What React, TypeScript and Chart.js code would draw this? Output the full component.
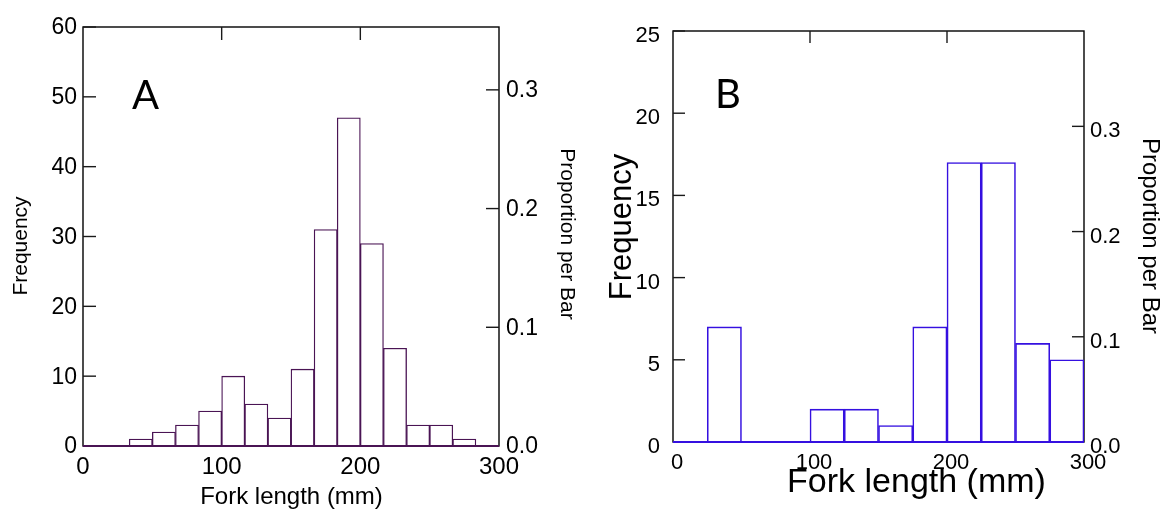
import React, { useEffect, useRef } from "react";
import { Chart, registerables } from "chart.js";

Chart.register(...registerables);

// ---------- data ----------
const xRange = [0, 300];
const xTickValues = [0, 100, 200, 300];
const xTickLabels = ["0", "100", "200", "300"];

// Panel A: 18 bins of equal width over 0–300 mm
const countsA = [0, 0, 1, 2, 3, 5, 10, 6, 4, 11, 31, 47, 29, 14, 3, 3, 1, 0];
const freqTicksA = [0, 10, 20, 30, 40, 50, 60];

// Panel B: 12 bins of 25 mm over 0–300 mm
const countsB = [0, 7, 0, 0, 2, 2, 1, 7, 17, 17, 6, 5];
const freqTicksB = [0, 5, 10, 15, 20, 25];

const propTicks = [0, 0.1, 0.2, 0.3];
const propTickLabels = ["0.0", "0.1", "0.2", "0.3"];

const FONT = "'Liberation Sans', Arial, sans-serif";

type TitleSpec = { text: string; x: number; y: number; size: number; rot: number; family?: string; align?: CanvasTextAlign; baseline?: CanvasTextBaseline };

type PanelSpec = {
  counts: number[];
  freqTicks: number[];
  color: string;
  leftW: number;
  rightW: number;
  topPad: number;
  bottomH: number;
  tickLen: number;
  yFont: number;
  yPad: number;
  yOffset: number;
  xFont: number;
  xPad: number;
  xOffset: number;
  rFont: number;
  rPad: number;
  barW: number;
  baseW: number;
  titles: TitleSpec[];
};

const panelA: PanelSpec = {
  counts: countsA,
  freqTicks: freqTicksA,
  color: "#4a1454",
  leftW: 83,
  rightW: 81,
  topPad: 27,
  bottomH: 63,
  tickLen: 13,
  yFont: 23,
  yPad: 6,
  yOffset: 1,
  xFont: 24,
  xPad: 7,
  xOffset: 0,
  rFont: 23,
  rPad: 7,
  barW: 1.3,
  baseW: 1.8,
  titles: [
    { text: "Frequency", x: 21, y: 246, size: 21, rot: -90 },
    { text: "Proportion per Bar", x: 567, y: 234, size: 21, rot: 90 },
    { text: "Fork length (mm)", x: 291.5, y: 497, size: 24, rot: 0 },
    { text: "A", x: 132, y: 109, size: 40, rot: 0, family: "Lato, 'Open Sans', sans-serif", align: "left", baseline: "alphabetic" },
  ],
};

const panelB: PanelSpec = {
  counts: countsB,
  freqTicks: freqTicksB,
  color: "#3510e0",
  leftW: 93,
  rightW: 84,
  topPad: 31,
  bottomH: 67,
  tickLen: 12,
  yFont: 22,
  yPad: 13,
  yOffset: 5,
  xFont: 22,
  xPad: 8,
  xOffset: 4,
  rFont: 22,
  rPad: 6,
  barW: 1.6,
  baseW: 2.2,
  titles: [
    { text: "Frequency", x: 42, y: 227, size: 31, rot: -90 },
    { text: "Proportion per Bar", x: 570, y: 236, size: 24, rot: 90 },
    { text: "Fork length (mm)", x: 336.5, y: 482.5, size: 34, rot: 0 },
    { text: "B", x: 135, y: 108, size: 40, rot: 0, family: "Lato, 'Open Sans', sans-serif", align: "left", baseline: "alphabetic" },
  ],
};

function buildChart(canvas: HTMLCanvasElement, spec: PanelSpec) {
  const n = spec.counts.length;
  const binW = (xRange[1] - xRange[0]) / n;
  const points = spec.counts.map((c, i) => ({ x: xRange[0] + (i + 0.5) * binW, y: c }));
  const total = spec.counts.reduce((a, b) => a + b, 0);
  const yMax = spec.freqTicks[spec.freqTicks.length - 1];
  const propMax = yMax / total;

  const decor = {
    id: "decor",
    beforeDatasetsDraw(chart: any) {
      const { ctx, chartArea, scales } = chart;
      const { left, right, top, bottom } = chartArea;
      ctx.save();
      ctx.strokeStyle = "#000";
      ctx.lineWidth = 1.4;
      ctx.strokeRect(left, top, right - left, bottom - top);
      ctx.strokeStyle = "#1a1a1a";
      const L = spec.tickLen;
      const line = (x1: number, y1: number, x2: number, y2: number) => {
        ctx.beginPath();
        ctx.moveTo(x1, y1);
        ctx.lineTo(x2, y2);
        ctx.stroke();
      };
      scales.y.ticks.forEach((t: any) => {
        const p = scales.y.getPixelForValue(t.value);
        line(left, p, left + L, p);
      });
      scales.y2.ticks.forEach((t: any) => {
        const p = scales.y2.getPixelForValue(t.value);
        line(right - L, p, right, p);
      });
      scales.x.ticks.forEach((t: any) => {
        if (t.value > xRange[0] && t.value < xRange[1]) {
          const p = scales.x.getPixelForValue(t.value);
          line(p, top, p, top + L);
        }
      });
      ctx.restore();
    },
    afterDatasetsDraw(chart: any) {
      const { ctx, chartArea } = chart;
      ctx.save();
      ctx.strokeStyle = spec.color;
      ctx.lineWidth = spec.baseW;
      ctx.beginPath();
      ctx.moveTo(chartArea.left, chartArea.bottom);
      ctx.lineTo(chartArea.right, chartArea.bottom);
      ctx.stroke();
      ctx.restore();
    },
    afterDraw(chart: any) {
      const { ctx } = chart;
      spec.titles.forEach((t) => {
        ctx.save();
        ctx.fillStyle = "#000";
        ctx.font = `${t.size}px ${t.family || FONT}`;
        ctx.textAlign = t.align || "center";
        ctx.textBaseline = t.baseline || "middle";
        ctx.translate(t.x, t.y);
        ctx.rotate((t.rot * Math.PI) / 180);
        ctx.fillText(t.text, 0, 0);
        ctx.restore();
      });
    },
  };

  return new Chart(canvas, {
    type: "bar",
    data: {
      datasets: [
        {
          data: points as any,
          backgroundColor: "#ffffff",
          borderColor: spec.color,
          borderWidth: spec.barW,
          borderSkipped: "start",
          barPercentage: 1,
          categoryPercentage: 1,
          yAxisID: "y",
        },
      ],
    },
    options: {
      responsive: false,
      animation: false,
      devicePixelRatio: 1,
      events: [],
      layout: { padding: { top: spec.topPad, left: 0, right: 0, bottom: 0 } },
      plugins: { legend: { display: false }, tooltip: { enabled: false }, title: { display: false } },
      scales: {
        x: {
          type: "linear",
          position: "bottom",
          min: xRange[0],
          max: xRange[1],
          offset: false,
          grid: { display: false, drawTicks: false, offset: false },
          border: { display: false },
          afterBuildTicks: (s: any) => {
            s.ticks = xTickValues.map((v) => ({ value: v }));
          },
          afterFit: (s: any) => {
            s.height = spec.bottomH;
          },
          ticks: {
            autoSkip: false,
            maxRotation: 0,
            minRotation: 0,
            padding: spec.xPad,
            labelOffset: spec.xOffset,
            color: "#000",
            font: { family: FONT, size: spec.xFont },
            callback: (_v: any, i: number) => xTickLabels[i],
          },
        },
        y: {
          type: "linear",
          position: "left",
          min: 0,
          max: yMax,
          grid: { display: false, drawTicks: false },
          border: { display: false },
          afterBuildTicks: (s: any) => {
            s.ticks = spec.freqTicks.map((v) => ({ value: v }));
          },
          afterFit: (s: any) => {
            s.width = spec.leftW;
          },
          ticks: {
            padding: spec.yPad,
            labelOffset: spec.yOffset,
            color: "#000",
            font: { family: FONT, size: spec.yFont },
            callback: (v: any) => String(v),
          },
        },
        y2: {
          type: "linear",
          position: "right",
          min: 0,
          max: propMax,
          grid: { display: false, drawTicks: false },
          border: { display: false },
          afterBuildTicks: (s: any) => {
            s.ticks = propTicks.map((v) => ({ value: v }));
          },
          afterFit: (s: any) => {
            s.width = spec.rightW;
          },
          ticks: {
            padding: spec.rPad,
            labelOffset: spec.yOffset,
            color: "#000",
            font: { family: FONT, size: spec.rFont },
            callback: (_v: any, i: number) => propTickLabels[i],
          },
        },
      },
    } as any,
    plugins: [decor],
  });
}

function Panel({ spec, left, width }: { spec: PanelSpec; left: number; width: number }) {
  const ref = useRef<HTMLCanvasElement | null>(null);
  useEffect(() => {
    if (!ref.current) return;
    const chart = buildChart(ref.current, spec);
    return () => chart.destroy();
  }, [spec]);
  return (
    <canvas
      ref={ref}
      width={width}
      height={509}
      style={{ position: "absolute", left, top: 0, width, height: 509, display: "block" }}
    />
  );
}

export default function App() {
  return (
    <div style={{ position: "fixed", left: 0, top: 0, width: 1168, height: 509, background: "#fff", overflow: "hidden" }}>
      <Panel spec={panelA} left={0} width={580} />
      <Panel spec={panelB} left={580} width={588} />
    </div>
  );
}
